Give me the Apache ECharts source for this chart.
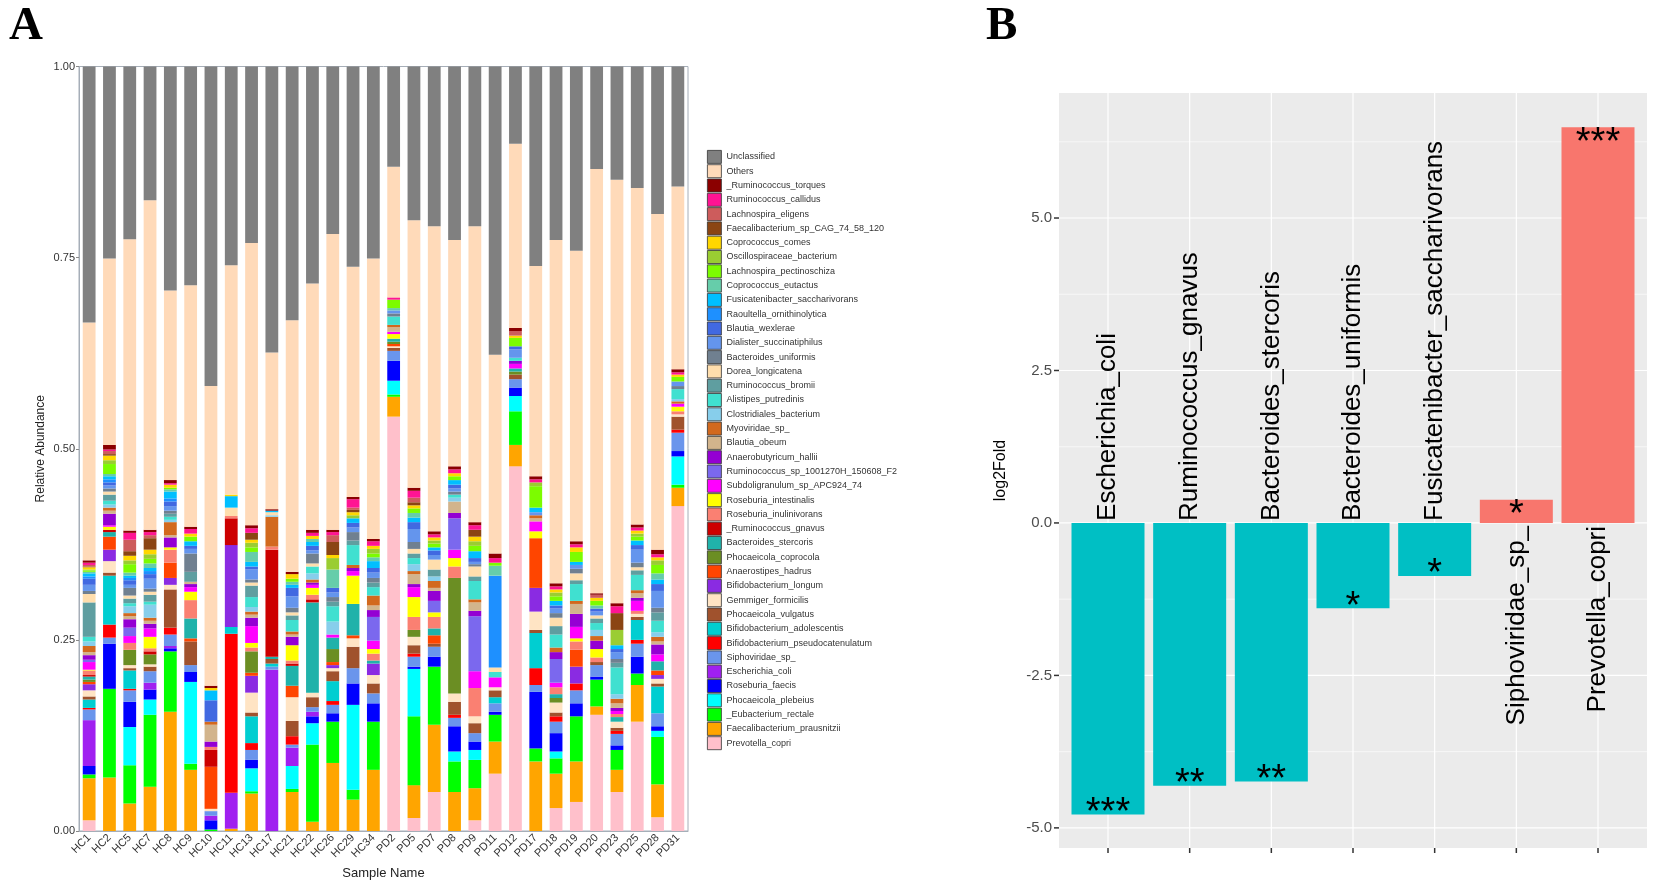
<!DOCTYPE html>
<html>
<head>
<meta charset="utf-8">
<script src="https://cdn.jsdelivr.net/npm/echarts@6.0.0/dist/echarts.min.js"></script>
<style>
  html, body { margin: 0; padding: 0; background: #fff; }
  #main { width: 1654px; height: 887px; }
</style>
</head>
<body>
<div id="main"></div>
<script>
// panel A: species, bottom of the stack first
var species = ['Prevotella_copri', 'Faecalibacterium_prausnitzii', '_Eubacterium_rectale', 'Phocaeicola_plebeius',
  'Roseburia_faecis', 'Escherichia_coli', 'Siphoviridae_sp_', 'Bifidobacterium_pseudocatenulatum',
  'Bifidobacterium_adolescentis', 'Phocaeicola_vulgatus', 'Gemmiger_formicilis', 'Bifidobacterium_longum',
  'Anaerostipes_hadrus', 'Phocaeicola_coprocola', 'Bacteroides_stercoris', '_Ruminococcus_gnavus',
  'Roseburia_inulinivorans', 'Roseburia_intestinalis', 'Subdoligranulum_sp_APC924_74',
  'Ruminococcus_sp_1001270H_150608_F2', 'Anaerobutyricum_hallii', 'Blautia_obeum', 'Myoviridae_sp_',
  'Clostridiales_bacterium', 'Alistipes_putredinis', 'Ruminococcus_bromii', 'Dorea_longicatena',
  'Bacteroides_uniformis', 'Dialister_succinatiphilus', 'Blautia_wexlerae', 'Raoultella_ornithinolytica',
  'Fusicatenibacter_saccharivorans', 'Coprococcus_eutactus', 'Lachnospira_pectinoschiza',
  'Oscillospiraceae_bacterium', 'Coprococcus_comes', 'Faecalibacterium_sp_CAG_74_58_120',
  'Lachnospira_eligens', 'Ruminococcus_callidus', '_Ruminococcus_torques', 'Others', 'Unclassified'];

var sampleNames = ['HC1', 'HC2', 'HC5', 'HC7', 'HC8', 'HC9', 'HC10', 'HC11', 'HC13', 'HC17', 'HC21', 'HC22',
  'HC26', 'HC29', 'HC34', 'PD2', 'PD5', 'PD7', 'PD8', 'PD9', 'PD11', 'PD12', 'PD17', 'PD18', 'PD19',
  'PD20', 'PD23', 'PD25', 'PD28', 'PD31'];

// relative abundance per sample, same order as species
var hc1 = [.014,.055,.005,0,.011,.060,.014,.002,.011,.004, .008,.008,.003,.003,.004,.002,.006,.001,.010,.003, .006,.004,.008,.006,.006,.045,.011,.004,.008,.008, .003,.004,.002,.002,.001,.003,.001,.002,.003,.003, .311,.338];
var hc2 = [0,.07,.116,0,.059,0,.008,.017,.064,.004, .015,.015,.017,0,.006,.003,0,.004,.002,0, .015,.004,.004,.004,.005,.008,.004,.004,.004,.004, .004,.004,.003,.013,.005,.006,.002,.004,.002,.006, .244,.253];
var hc5 = [0,.036,.05,.05,.033,0,.015,.002,.024,.003, .004,0,0,.02,0,0,.009,0,.009,.011, .011,.004,.004,.009,.004,.006,.004,.01,.004,.006, .003,.003,.004,.011,.005,.006,.006,.015,.009,.003, .381,.229];
var hc7 = [0,.058,.094,.02,.013,.009,.015,0,0,.006, .003,0,0,.013,0,.004,.004,.015,.011,0, .006,.004,.004,.017,.004,.009,.004,.004,.013,.006, .004,.004,.006,.006,.006,.006,.015,.004,.004,.003, .431,.182];
var hc8 = [0,.156,.079,0,.004,.003,.015,.009,0,.05, .006,.009,.02,0,0,0,.017,.003,0,0, .013,.003,.017,.003,.004,.004,0,.004,.006,.006, .004,.009,.003,.002,0,.004,0,0,.002,.004, .248,.293];
var hc9 = [0,.08,.008,.107,.013,0,.009,0,0,.031, 0,0,.004,0,.026,0,.024,.011,.006,0, .004,.003,0,0,0,.013,0,.024,.006,.004, 0,.006,0,.006,0,.004,0,0,.006,.003, .316,.286];
var hc10 = [0,0,.002,0,.012,.006,.006,0,0,0, .003,0,.055,0,0,.022,.004,0,0,0, .007,.022,.004,0,0,0,0,0,0,.028, 0,.013,0,0,0,.003,0,0,0,.003, .392,.418];
var hc11 = [0,.003,0,0,0,.047,0,.208,.009,0, 0,.107,0,0,0,.035,.003,0,0,0, 0,0,0,0,0,0,.011,0,0,0, 0,.015,0,0,0,.002,0,0,0,0, .3,.26];
var hc13 = [0,.049,.003,.03,.011,0,.013,.009,.035,.005, .026,.022,.004,.028,0,0,.005,.006,.022,0, .011,.004,.004,.006,.013,.015,.004,.004,.013,.004, 0,.006,.013,.006,.006,.004,.009,0,.006,.004, .369,.231];
var hc17 = [0,0,0,0,0,.211,.004,0,.004,.006, 0,0,0,0,.003,.14,.004,0,0,0, 0,0,.039,.002,0,0,.004,0,0,0, 0,.002,0,0,0,0,0,0,0,.002, .205,.375];
var hc21 = [0,.051,.004,.03,0,.024,.004,.011,0,.02, .031,0,.015,0,.026,.003,.004,.02,0,0, .011,.003,.004,0,.015,.006,.004,.006,.015,.011, 0,.004,.004,.004,0,.006,0,0,0,.003, .329,.332];
var hc22 = [0,.012,.101,.028,.009,.006,.006,0,0,.013, .006,0,0,0,.118,.004,.006,.009,.004,0, .003,0,.004,.008,.009,0,.004,.013,.004,.006, 0,.005,.004,0,0,.004,0,0,.004,.004, .322,.284];
var hc26 = [0,.089,.054,0,.011,0,.011,.005,.026,.013, .004,.004,.004,.017,.015,0,0,0,.004,0, 0,0,0,.017,.02,.006,0,.006,.006,.006, 0,0,.024,0,.015,.004,.017,.009,.004,.003, .387,.219];
var hc29 = [0,.041,.013,.111,.028,0,.02,0,0,.028, .011,0,.004,0,.041,0,0,.037,.006,0, .004,0,.004,0,.026,.006,0,.011,.006,.006, 0,.006,0,0,.004,.004,.003,.003,.011,.003, .301,.262];
var hc34 = [0,.08,.063,0,.024,0,.013,0,0,.013, .011,.015,0,0,.004,0,.009,.006,.011,.031, .009,.006,.013,0,.011,.006,0,.006,.007,.006, 0,.009,.005,.005,.006,.004,0,0,.006,.003, .367,.251];
var pd2 = [.542,.026,.003,.018,.026,0,.013,0,0,.004, .002,0,.003,.003,.004,0,0,.006,.003,0, 0,.006,.003,0,.011,0,0,.004,.004,0, 0,0,.003,.011,0,0,0,0,.003,0, .171,.133];
var pd5 = [.017,.043,.09,.062,.003,0,.013,.004,0,.011, .011,0,0,.009,0,0,.017,.026,.013,0, .004,.013,.004,.009,.008,.006,.006,.009,.017,.009, 0,.006,.006,.006,0,.004,.004,.006,.009,.004, .35,.201];
var pd7 = [.051,.088,.076,0,.013,0,.013,0,0,.004, 0,0,.011,0,.009,0,.015,.006,0,.015, .013,.004,.009,.006,0,.009,.013,0,.006,.006, 0,.004,0,.005,.004,.004,0,0,.004,.004, .399,.209];
var pd8 = [0,.051,.04,.013,.033,0,.011,.004,0,.017, .011,0,0,.151,0,0,.015,.011,.011,.041, .007,.015,0,.005,.004,0,0,.004,.004,.005, 0,.006,0,.005,0,.004,0,0,.005,.004, .296,.227];
var pd9 = [.014,.042,.037,.013,.011,0,.011,0,0,.013, .009,0,0,0,0,0,.037,0,.022,.072, .007,.011,.004,0,.024,.006,.013,.003,.003,.005, 0,.009,0,.007,.006,.006,.009,0,.006,.004, .387,.209];
var pd11 = [.075,.042,.035,0,.004,0,.011,0,.008,.009, .004,0,0,0,0,0,0,0,.013,0, 0,0,0,0,.007,0,.006,0,0,0, .12,0,.013,.004,0,0,0,0,.006,.006, .26,.377];
var pd12 = [.477,.028,.044,.02,.011,0,.011,0,0,.006, 0,0,0,.004,.004,0,0,0,.006,0, .004,0,0,0,.004,0,0,0,.011,.004, 0,0,0,.011,0,.003,0,.006,0,.004, .241,.101];
var pd17 = [0,.091,.017,0,.074,0,.009,.022,.046,.004, .024,.031,.065,0,0,0,0,.009,.013,0, 0,.004,.004,0,0,0,0,0,.004,0, 0,.006,0,.028,.005,0,0,0,.004,.004, .275,.261];
var pd18 = [.03,.045,.02,.009,.024,0,.015,.007,0,.005, .013,0,0,.006,.005,0,.009,0,.006,.031, .009,0,.006,0,.017,.011,.011,.006,.006,.004, 0,.006,0,.006,.005,.004,0,0,.004,.004, .449,.227];
var pd19 = [.038,.053,.059,0,.017,0,.017,.009,0,0, 0,.022,.022,0,0,0,.011,.004,.015,0, .017,.013,.004,0,.022,.005,.009,.006,.005,0, 0,.004,0,.013,0,.006,0,0,.004,.004, .38,.241];
var pd20 = [.152,.011,.035,0,.004,0,.015,0,0,.004, 0,0,0,0,0,0,.006,.011,0,0, .011,0,.006,.008,.009,.006,.004,0,.005,.004, 0,0,.004,.006,0,.004,0,.004,0,.002, .555,.134];
var pd23 = [.051,.029,.026,0,.006,0,.015,.004,0,.004, .008,0,0,0,.006,0,.004,0,.004,0, .004,.006,.006,.006,.035,.006,0,.005,.009,.004, 0,.005,0,0,.02,0,.022,0,.009,.004, .554,.148];
var pd25 = [.143,.048,.015,0,.022,0,.017,.005,.026,.004, .004,0,0,0,0,0,.004,0,.013,0, .004,.006,.004,0,.02,.006,.004,.006,.017,.006, 0,.006,0,.005,.004,.004,0,0,.004,.004, .44,.159];
var pd28 = [.018,.043,.062,.008,.006,0,.017,0,.035,.004, .006,.005,.006,0,.012,0,0,0,.009,0, .013,.004,.006,.006,.015,.011,0,.006,.022,.009, 0,.006,.008,.011,.006,.004,0,0,.004,.006, .439,.193];
var pd31 = [.425,.024,.004,.037,.007,0,.024,.004,0,.017, .003,0,0,0,0,0,.004,.006,.004,0, 0,0,.003,.003,.013,0,0,.004,.006,0, 0,0,0,.006,0,.003,0,0,.003,.004, .239,.157];

var rows = [hc1, hc2, hc5, hc7, hc8, hc9, hc10, hc11, hc13, hc17, hc21, hc22, hc26, hc29, hc34,
  pd2, pd5, pd7, pd8, pd9, pd11, pd12, pd17, pd18, pd19, pd20, pd23, pd25, pd28, pd31];

var speciesColors = ['#FFC0CB', '#FFA500', '#00FF00', '#00FFFF', '#0000FF', '#A020F0', '#6A95EC', '#FF0000',
  '#00CED1', '#A0522D', '#FFE4C4', '#8A2BE2', '#FF4500', '#6B8E23', '#20B2AA', '#CD0000', '#FA8072',
  '#FFFF00', '#FF00FF', '#7B68EE', '#9400D3', '#D2B48C', '#D2691E', '#87CEEB', '#40E0D0', '#5F9EA0',
  '#FFDEAD', '#708090', '#6495ED', '#4169E1', '#1E90FF', '#00BFFF', '#66CDAA', '#7CFC00', '#9ACD32',
  '#FFD700', '#8B4513', '#CD5C5C', '#FF1493', '#8B0000', '#FFDAB9', '#808080'];

// panel B
var foldSpecies = ['Escherichia_coli', 'Ruminococcus_gnavus', 'Bacteroides_stercoris', 'Bacteroides_uniformis',
  'Fusicatenibacter_saccharivorans', 'Siphoviridae_sp_', 'Prevotella_copri'];
var log2Fold = [-4.78, -4.31, -4.24, -1.40, -0.87, 0.38, 6.49];
var signif = ['***', '**', '**', '*', '*', '*', '***'];
var foldTicks = [-5, -2.5, 0, 2.5, 5];
var foldMinor = [-3.75, -1.25, 1.25, 3.75, 6.25];

var sans = 'Liberation Sans';
var myChart = echarts.init(document.getElementById('main'));

// stacked bars, one series per species
var abundSeries = species.map(function (name, k) {
  return {
    name: name,
    type: 'bar',
    stack: 'abund',
    xAxisIndex: 0,
    yAxisIndex: 0,
    barCategoryGap: '37%',
    itemStyle: { color: speciesColors[k] },
    emphasis: { disabled: true },
    silent: true,
    data: rows.map(function (r) { return r[k]; })
  };
});

// ggplot style grid lines behind the fold bars, plus the ticks on both axes
// kind: 0 major, 1 minor, 2 vertical, 3 x tick, 4 y tick
var gridData = [];
foldTicks.forEach(function (v) { gridData.push([0, v, 0]); });
foldMinor.forEach(function (v) { gridData.push([0, v, 1]); });
foldSpecies.forEach(function (n, i) { gridData.push([i, 0, 2]); });
foldSpecies.forEach(function (n, i) { gridData.push([i, 0, 3]); });
foldTicks.forEach(function (v) { gridData.push([0, v, 4]); });

var gridSeries = {
  type: 'custom',
  name: 'gridlines',
  xAxisIndex: 1,
  yAxisIndex: 1,
  z: 1,
  silent: true,
  clip: false,
  data: gridData,
  renderItem: function (params, api) {
    var cs = params.coordSys;
    var kind = api.value(2);
    var x, y;
    if (kind === 3) {
      x = api.coord([api.value(0), 0])[0];
      return { type: 'line', shape: { x1: x, y1: cs.y + cs.height, x2: x, y2: cs.y + cs.height + 5 },
        style: { stroke: '#333333', lineWidth: 1.5 } };
    }
    if (kind === 2) {
      x = api.coord([api.value(0), 0])[0];
      return { type: 'line', shape: { x1: x, y1: cs.y, x2: x, y2: cs.y + cs.height },
        style: { stroke: '#ffffff', lineWidth: 1.2 } };
    }
    y = api.coord([0, api.value(1)])[1];
    if (kind === 4) {
      return { type: 'line', shape: { x1: cs.x - 5, y1: y, x2: cs.x, y2: y },
        style: { stroke: '#333333', lineWidth: 1.5 } };
    }
    return { type: 'line', shape: { x1: cs.x, y1: y, x2: cs.x + cs.width, y2: y },
      style: { stroke: '#ffffff', lineWidth: kind === 0 ? 1.2 : 0.6 } };
  }
};

var foldBars = {
  type: 'bar',
  name: 'log2Fold',
  xAxisIndex: 1,
  yAxisIndex: 1,
  barWidth: 73,
  z: 2,
  silent: true,
  data: log2Fold.map(function (v, i) {
    return { value: [i, v], itemStyle: { color: v < 0 ? '#00BFC4' : '#F8766D' } };
  })
};

// species names at zero and stars at the bar ends
var foldLabels = {
  type: 'custom',
  name: 'labels',
  xAxisIndex: 1,
  yAxisIndex: 1,
  z: 3,
  silent: true,
  data: log2Fold.map(function (v, i) { return [i, v]; }),
  renderItem: function (params, api) {
    var i = params.dataIndex;
    var v = api.value(1);
    var base = api.coord([api.value(0), 0]);
    var tip = api.coord([api.value(0), v]);
    var neg = v < 0;
    return {
      type: 'group',
      children: [
        {
          type: 'text',
          x: base[0],
          y: neg ? base[1] - 2 : base[1] + 3,
          rotation: Math.PI / 2,
          style: { text: foldSpecies[i], fontSize: 26, fontFamily: sans, fill: '#000',
            align: neg ? 'left' : 'right', verticalAlign: 'middle' }
        },
        {
          type: 'text',
          x: tip[0],
          y: neg ? tip[1] - 1 : tip[1] + 16,
          style: { text: signif[i], fontSize: 38, fontFamily: sans, fill: '#000',
            align: 'center', verticalAlign: 'middle' }
        }
      ]
    };
  }
};

var option = {
  animation: false,
  backgroundColor: '#ffffff',
  textStyle: { fontFamily: sans },
  title: [
    { text: 'A', left: 4, top: -2, textStyle: { fontFamily: 'Liberation Serif', fontWeight: 'bold', fontSize: 47, color: '#000' } },
    { text: 'B', left: 981, top: -2, textStyle: { fontFamily: 'Liberation Serif', fontWeight: 'bold', fontSize: 47, color: '#000' } }
  ],
  legend: {
    orient: 'vertical',
    left: 702,
    top: 145,
    icon: 'rect',
    itemWidth: 14,
    itemHeight: 13,
    itemGap: 0.5,
    selectedMode: false,
    itemStyle: { borderColor: '#333', borderWidth: 0.8 },
    textStyle: { fontSize: 9, color: '#333', fontFamily: sans },
    data: species.slice().reverse()
  },
  grid: [
    { left: 79, top: 66.5, width: 609, height: 764.5, show: true, borderColor: '#A6AEB8', borderWidth: 1, backgroundColor: 'transparent' },
    { left: 1059, top: 93, width: 588, height: 755, show: true, borderWidth: 0, backgroundColor: '#EBEBEB' }
  ],
  xAxis: [
    {
      type: 'category',
      gridIndex: 0,
      data: sampleNames,
      name: 'Sample Name',
      nameLocation: 'middle',
      nameGap: 36,
      nameTextStyle: { fontSize: 13, color: '#222' },
      axisLine: { lineStyle: { color: '#A6AEB8' } },
      axisTick: { alignWithLabel: true, length: 3, lineStyle: { color: '#888' } },
      axisLabel: { interval: 0, rotate: 45, fontSize: 11, color: '#333', margin: 5 }
    },
    {
      type: 'value',
      gridIndex: 1,
      min: -0.6,
      max: 6.6,
      axisLine: { show: false },
      splitLine: { show: false },
      axisLabel: { show: false },
      axisTick: { show: false }
    }
  ],
  yAxis: [
    {
      type: 'value',
      gridIndex: 0,
      min: 0,
      max: 1,
      interval: 0.25,
      name: 'Relative Abundance',
      nameLocation: 'middle',
      nameGap: 32,
      nameTextStyle: { fontSize: 12, color: '#222' },
      axisLine: { show: true, lineStyle: { color: '#A6AEB8' } },
      axisTick: { show: true, length: 3, lineStyle: { color: '#888' } },
      splitLine: { show: false },
      axisLabel: { fontSize: 11, color: '#333', margin: 4, formatter: function (v) { return v.toFixed(2); } }
    },
    {
      type: 'value',
      gridIndex: 1,
      min: -5.33,
      max: 7.05,
      name: 'log2Fold',
      nameLocation: 'middle',
      nameGap: 50,
      nameTextStyle: { fontSize: 16, color: '#000' },
      axisLine: { show: false },
      splitLine: { show: false },
      axisTick: { show: false },
      axisLabel: { customValues: foldTicks, fontSize: 15, color: '#4D4D4D', margin: 7,
        formatter: function (v) { return v.toFixed(1); } }
    }
  ],
  series: abundSeries.concat([gridSeries, foldBars, foldLabels])
};

myChart.setOption(option);
</script>
</body>
</html>
